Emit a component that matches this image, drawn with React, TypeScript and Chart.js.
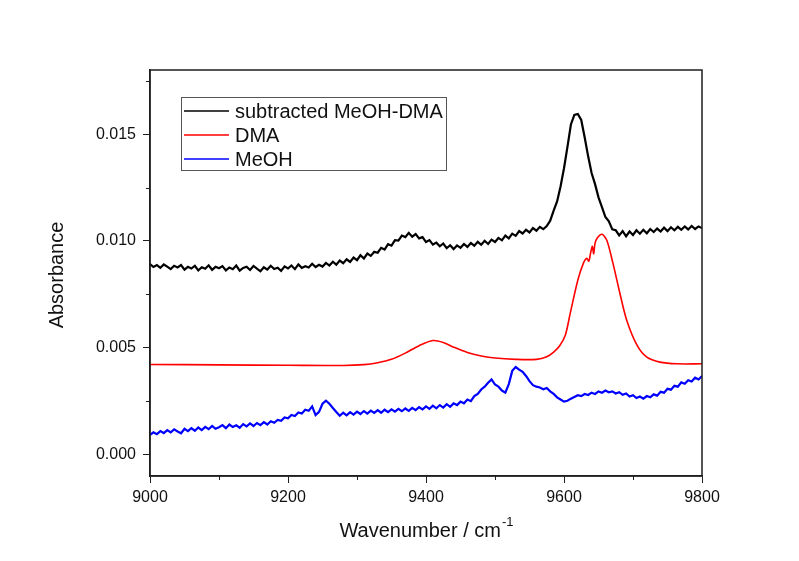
import { useEffect, useRef } from 'react';
import { Chart, registerables } from 'chart.js';

Chart.register(...registerables);

// ---------- data ----------
const SERIES_LABELS = ['subtracted MeOH-DMA', 'DMA', 'MeOH'];
const SERIES_COLORS = ['#000000', '#ff0000', '#0000ff'];
const SERIES_WIDTHS = [2.2, 1.6, 2.2];

// sampling grid for the two noisy spectra (cm-1)
const GRID_START = 9000;
const GRID_STEP = 5;

// values in units of 1e-5 absorbance
const VALUE_UNIT = 1e-5;

const subtractedValues = [
  892, 878, 887, 874, 890, 880, 868, 884, 876, 887,
  866, 879, 871, 884, 862, 877, 870, 886, 865, 879,
  872, 882, 862, 876, 868, 885, 861, 874, 879, 864,
  883, 870, 858, 877, 866, 884, 869, 875, 860, 881,
  871, 885, 868, 890, 874, 882, 876, 893, 878, 888,
  880, 897, 885, 903, 889, 908, 896, 914, 902, 922,
  910, 933, 918, 941, 930, 949, 945, 968, 960, 985,
  978, 1004, 1002, 1025, 1018, 1038, 1020, 1032, 1012, 1018,
  995, 1004, 983, 992, 975, 988, 966, 980, 962, 979,
  968, 986, 972, 990, 978, 996, 982, 1001, 986, 1006,
  995, 1014, 1003, 1025, 1012, 1034, 1024, 1046, 1035, 1052,
  1040, 1060, 1048, 1066, 1055, 1070, 1095, 1142, 1185, 1255,
  1340, 1440, 1545, 1590, 1594, 1566, 1484, 1396, 1318, 1266,
  1204, 1158, 1112, 1092, 1054, 1050, 1026, 1046, 1022, 1044,
  1028, 1050, 1034, 1052, 1036, 1056, 1042, 1058, 1044, 1062,
  1046, 1064, 1050, 1066, 1052, 1068, 1054, 1070, 1056, 1068,
  1060,
];

const meohValues = [
  92, 104, 96, 110, 101, 115, 104, 118, 108, 100,
  121, 110, 124, 112, 127, 115, 130, 119, 134, 121,
  128, 138, 124, 141, 129, 137, 126, 143, 132, 146,
  134, 148, 138, 152, 141, 156, 149, 162, 158, 174,
  170, 186, 181, 197, 192, 210, 205, 226, 185, 200,
  238, 252, 238, 218, 200, 182, 196, 184, 199, 187,
  201, 190, 204, 192, 206, 195, 208, 196, 210, 199,
  212, 201, 214, 203, 216, 205, 219, 208, 222, 212,
  226, 214, 229, 217, 232, 220, 236, 224, 240, 232,
  248, 240, 258, 250, 274, 284, 305, 318, 336, 352,
  328, 318, 300, 290, 330, 392, 410, 398, 388, 368,
  344, 325, 318, 314, 306, 312, 296, 284, 268, 258,
  248, 252, 262, 270, 278, 274, 284, 279, 290, 284,
  296, 290, 300, 292, 296, 286, 292, 280, 286, 272,
  278, 265, 272, 262, 274, 268, 282, 276, 294, 290,
  308, 304, 322, 318, 338, 332, 348, 342, 360, 352,
  368,
];

// smooth DMA spectrum, read at irregular wavenumbers
const dmaWavenumbers = [
  9000, 9100, 9200, 9280, 9310, 9330, 9350, 9370, 9390, 9410,
  9425, 9440, 9460, 9480, 9500, 9530, 9560, 9575, 9585, 9594,
  9602, 9609, 9620, 9628, 9633, 9636, 9638, 9641, 9643, 9645,
  9648, 9655, 9662, 9671, 9681, 9691, 9706, 9720, 9739, 9764,
  9800,
];
const dmaValues = [
  422, 420, 418, 417, 421, 430, 446, 475, 510, 534,
  525, 503, 478, 462, 452, 446, 446, 458, 480, 511,
  560, 661, 816, 895, 919, 905, 935, 975, 940, 990,
  1013, 1031, 1003, 895, 755, 628, 511, 456, 433, 425,
  425,
];

const X_MIN = 9000;
const X_MAX = 9800;
const Y_MIN = -0.001;
const Y_MAX = 0.018;
const xTickValues = [9000, 9200, 9400, 9600, 9800];
const xMinorTicks = [9100, 9300, 9500, 9700];
const yTickValues = [0.0, 0.005, 0.01, 0.015];
const yMinorTicks = [0.0025, 0.0075, 0.0125, 0.0175];

const X_TITLE = 'Wavenumber / cm';
const X_TITLE_SUP = '-1';
const Y_TITLE = 'Absorbance';

// ---------- styles ----------
const FONT = "'Liberation Sans', Arial, sans-serif";
const AXIS_COLOR = '#1e1e1e';
const TEXT_COLOR = '#111111';

const decorPlugin = {
  id: 'decor',
  afterDraw(chart: any) {
    const { ctx, chartArea: a, scales } = chart;
    const xs = scales.x;
    const ys = scales.y;
    ctx.save();
    // frame
    ctx.strokeStyle = AXIS_COLOR;
    ctx.lineWidth = 1.5;
    ctx.strokeRect(a.left, a.top, a.right - a.left, a.bottom - a.top);
    // minor ticks
    ctx.lineWidth = 1;
    ctx.beginPath();
    xMinorTicks.forEach((v) => {
      const px = Math.round(xs.getPixelForValue(v)) + 0.5;
      ctx.moveTo(px, a.bottom);
      ctx.lineTo(px, a.bottom + 4);
    });
    yMinorTicks.forEach((v) => {
      const py = Math.round(ys.getPixelForValue(v)) + 0.5;
      ctx.moveTo(a.left - 4, py);
      ctx.lineTo(a.left, py);
    });
    ctx.stroke();

    // legend
    const lx = a.left + 31;
    const ly = a.top + 27;
    const lw = 265;
    const lh = 73;
    ctx.fillStyle = '#ffffff';
    ctx.fillRect(lx, ly, lw, lh);
    ctx.strokeStyle = '#555555';
    ctx.lineWidth = 1;
    ctx.strokeRect(lx + 0.5, ly + 0.5, lw, lh);
    ctx.font = `20px ${FONT}`;
    ctx.textBaseline = 'middle';
    ctx.textAlign = 'left';
    SERIES_LABELS.forEach((label, i) => {
      const ry = ly + 14 + i * 24;
      ctx.strokeStyle = SERIES_COLORS[i];
      ctx.lineWidth = 1.5;
      ctx.beginPath();
      ctx.moveTo(lx + 3, ry);
      ctx.lineTo(lx + 48, ry);
      ctx.stroke();
      ctx.fillStyle = TEXT_COLOR;
      ctx.fillText(label, lx + 54, ry + 1);
    });

    // x title with superscript
    ctx.fillStyle = TEXT_COLOR;
    ctx.font = `20px ${FONT}`;
    const mainW = ctx.measureText(X_TITLE).width;
    ctx.font = `13px ${FONT}`;
    const supW = ctx.measureText(X_TITLE_SUP).width;
    const cx = (a.left + a.right) / 2;
    const startX = cx - (mainW + supW) / 2;
    const ty = a.bottom + 55;
    ctx.font = `20px ${FONT}`;
    ctx.textBaseline = 'middle';
    ctx.fillText(X_TITLE, startX, ty);
    ctx.font = `13px ${FONT}`;
    ctx.fillText(X_TITLE_SUP, startX + mainW + 1, ty - 9);

    // y title
    ctx.font = `20px ${FONT}`;
    ctx.textAlign = 'center';
    ctx.translate(a.left - 93, (a.top + a.bottom) / 2 + 2);
    ctx.rotate(-Math.PI / 2);
    ctx.fillText(Y_TITLE, 0, 0);
    ctx.restore();
  },
};

export default function App() {
  const ref = useRef<HTMLCanvasElement | null>(null);

  useEffect(() => {
    if (!ref.current) return;
    const gridPoints = (vals: number[]) =>
      vals.map((v, i) => ({ x: GRID_START + i * GRID_STEP, y: v * VALUE_UNIT }));
    const dmaPoints = dmaWavenumbers.map((x, i) => ({ x, y: dmaValues[i] * VALUE_UNIT }));
    const seriesData = [gridPoints(subtractedValues), dmaPoints, gridPoints(meohValues)];

    const chart = new Chart(ref.current, {
      type: 'line',
      data: {
        datasets: SERIES_LABELS.map((label, i) => ({
          label,
          data: seriesData[i],
          borderColor: SERIES_COLORS[i],
          backgroundColor: SERIES_COLORS[i],
          borderWidth: SERIES_WIDTHS[i],
          pointRadius: 0,
          fill: false,
          tension: i === 1 ? 0.3 : 0,
        })),
      },
      options: {
        responsive: false,
        animation: false,
        devicePixelRatio: 1,
        layout: { padding: { top: 70, right: 97, left: 0, bottom: 0 } },
        plugins: { legend: { display: false }, tooltip: { enabled: false } },
        scales: {
          x: {
            type: 'linear',
            min: X_MIN,
            max: X_MAX,
            afterFit: (s: any) => { s.height = 85; },
            afterBuildTicks: (s: any) => { s.ticks = xTickValues.map((value) => ({ value })); },
            grid: { drawOnChartArea: false, drawTicks: true, tickLength: 7, color: AXIS_COLOR, lineWidth: 1 },
            border: { display: true, color: AXIS_COLOR, width: 1.5 },
            ticks: {
              color: TEXT_COLOR,
              font: { family: FONT, size: 16 },
              padding: 5,
              maxRotation: 0,
              callback: (v: any) => String(v),
            },
          },
          y: {
            type: 'linear',
            min: Y_MIN,
            max: Y_MAX,
            afterFit: (s: any) => { s.width = 150; },
            afterBuildTicks: (s: any) => { s.ticks = yTickValues.map((value) => ({ value })); },
            grid: { drawOnChartArea: false, drawTicks: true, tickLength: 7, color: AXIS_COLOR, lineWidth: 1 },
            border: { display: true, color: AXIS_COLOR, width: 1.5 },
            ticks: {
              color: TEXT_COLOR,
              font: { family: FONT, size: 16 },
              padding: 7,
              callback: (v: any) => Number(v).toFixed(3),
            },
          },
        },
      },
      plugins: [decorPlugin],
    });
    return () => chart.destroy();
  }, []);

  return (
    <div style={{ position: 'absolute', left: 0, top: 0, width: 799, height: 561, background: '#fff' }}>
      <canvas ref={ref} width={799} height={561} style={{ display: 'block' }} />
    </div>
  );
}
